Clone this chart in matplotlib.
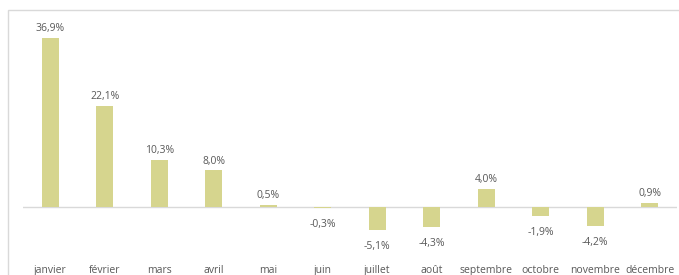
import matplotlib.pyplot as plt
import numpy as np
from matplotlib.patches import Rectangle

months = ['janvier', 'février', 'mars', 'avril', 'mai', 'juin', 'juillet',
          'août', 'septembre', 'octobre', 'novembre', 'décembre']
values = [36.9, 22.1, 10.3, 8.0, 0.5, -0.3, -5.1, -4.3, 4.0, -1.9, -4.2, 0.9]

W, H = 679, 275
fig = plt.figure(figsize=(W / 100, H / 100), dpi=100)
fig.patch.set_facecolor('white')

# light frame around the chart area (as in the spreadsheet export)
fig.patches.append(Rectangle((8 / W, -0.1), 1.0, 1 - 10 / H + 0.1,
                             transform=fig.transFigure, fill=False,
                             edgecolor='#d9d9d9', linewidth=1))

ax = fig.add_axes([23 / W, 1 - 250 / H, 654 / W, 230 / H])
x = np.arange(len(months))
ax.bar(x, values, width=0.31, color='#d6d58e', zorder=2)
ax.axhline(0, color='#d9d9d9', linewidth=1, zorder=1)

ax.set_xlim(-0.5, 11.5)
ax.set_ylim(-9.4, 40.8)
for s in ax.spines.values():
    s.set_visible(False)
ax.set_yticks([])
ax.set_xticks(x)
ax.set_xticklabels(months, fontsize=7.5, color='#595959', family='Open Sans')
ax.tick_params(axis='x', length=0, pad=11)

for xi, v in zip(x, values):
    lbl = f'{v:.1f}%'.replace('.', ',')
    off = 2.5 if v >= 0 else -8
    ax.annotate(lbl, (xi, v), xytext=(0, off), textcoords='offset points',
                ha='center', va='bottom' if v >= 0 else 'top',
                fontsize=7.5, color='#595959', family='Open Sans')

fig.savefig('out.png', dpi=100)
